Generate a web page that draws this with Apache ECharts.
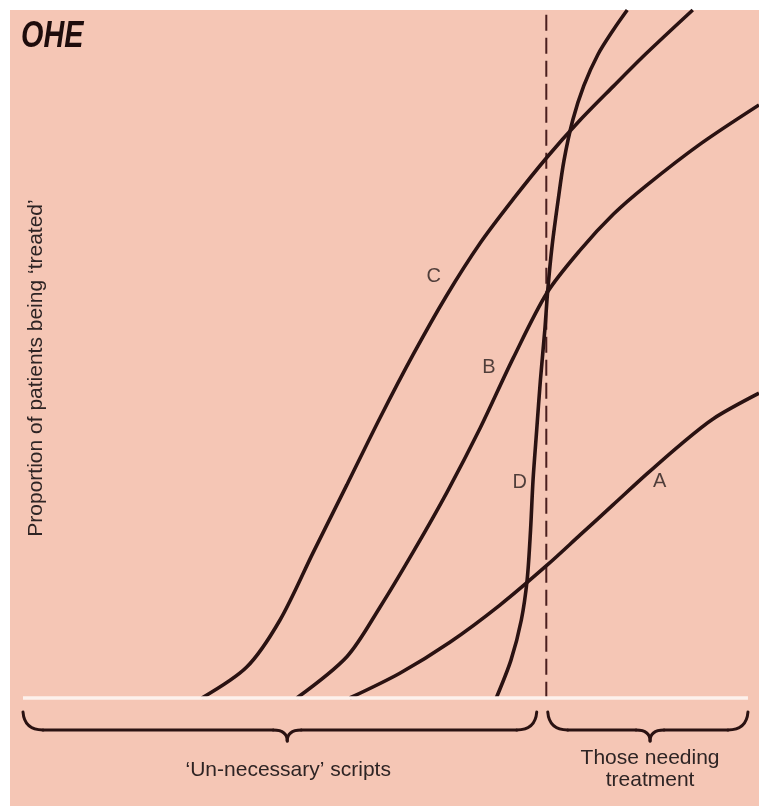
<!DOCTYPE html>
<html>
<head>
<meta charset="utf-8">
<script src="https://cdn.jsdelivr.net/npm/echarts@6/dist/echarts.min.js"></script>
<style>
  html, body { margin: 0; padding: 0; background: #ffffff; }
  #chart { width: 759px; height: 806px; }
</style>
</head>
<body>
<div id="chart"></div>
<script>
// x: prescribing spectrum (0 = left end of baseline), y: proportion treated (0-100)
const curveA = [[44.4,0],[51.2,3.6],[58.0,8.1],[64.8,13.5],[71.2,19.3],[75.7,23.7],[80.2,28.1],[84.8,32.6],[89.3,36.8],[93.8,40.6],[100,44.3]];
const curveB = [[37.2,0],[44.0,6.0],[48.5,13.2],[53.0,21.2],[57.6,29.9],[62.1,39.2],[66.6,49.4],[71.2,58.9],[75.7,65.1],[80.2,70.3],[84.6,74.4],[92.0,80.5],[100,86.2]];
const curveC = [[24.3,0],[30.4,4.5],[34.9,11.3],[39.4,21.1],[44.0,30.97],[48.5,40.7],[53.0,49.9],[57.5,58.4],[62.1,66.1],[66.6,72.5],[71.2,78.6],[75.7,84.0],[80.2,88.9],[84.6,93.6],[91.0,100]];
const curveD = [[64.3,0],[66.3,5.5],[67.7,11.3],[68.5,17.2],[68.96,24.4],[69.3,31.7],[69.8,39.0],[70.3,46.2],[70.9,53.5],[71.3,59.3],[71.9,65.8],[72.7,72.3],[73.5,78.1],[74.7,84.0],[76.2,89.0],[78.1,93.5],[80.2,97.1],[82.1,100]];
const curveLabels = ['C', 'B', 'D', 'A'];
const labelPositions = [[55.8,61.3],[63.3,48.1],[67.5,31.3],[86.5,31.4]];
const thresholdX = 71.1;
const thresholdTop = 99.3;
const baselineEnd = 98.5;
const yAxisTitle = 'Proportion of patients being \u2018treated\u2019';
const groupLeft = '\u2018Un-necessary\u2019 scripts';
const groupRight = 'Those needing\ntreatment';
const leftBrace = [0, 35.9, 69.8];
const rightBrace = [71.3, 85.2, 98.5];

const INK = '#2a1212';
const TEXT = '#2e2424';
const FONT = '"Liberation Sans", Arial, sans-serif';

const chart = echarts.init(document.getElementById('chart'), null, { renderer: 'canvas' });

function curve(name, data) {
  return {
    name, type: 'line', data, smooth: 0.3, showSymbol: false, symbol: 'none',
    lineStyle: { color: INK, width: 3.6 }, z: 3, clip: true, silent: true
  };
}

chart.setOption({
  backgroundColor: '#ffffff',
  animation: false,
  grid: { left: 23, right: 0, top: 10, bottom: 108 },
  xAxis: { type: 'value', min: 0, max: 100, show: false },
  yAxis: { type: 'value', min: 0, max: 100, show: false },
  series: [
    curve('A', curveA), curve('B', curveB), curve('C', curveC), curve('D', curveD),
    {
      name: 'threshold', type: 'line', silent: true, symbol: 'none',
      data: [[thresholdX, thresholdTop], [thresholdX, 0]],
      lineStyle: { color: '#4a1e1e', width: 2, type: [16, 7] }, z: 2
    },
    {
      name: 'baseline', type: 'line', silent: true, symbol: 'none',
      data: [[0, 0], [baselineEnd, 0]],
      lineStyle: { color: '#fdf1ec', width: 3.5 }, z: 4, clip: false
    },
    {
      name: 'labels', type: 'scatter', silent: true, symbolSize: 0,
      data: labelPositions.map((p, i) => ({ value: p, name: curveLabels[i] })),
      label: { show: true, position: 'inside', formatter: '{b}', color: '#261c1c', fontSize: 20, fontFamily: FONT },
      z: 5
    }
  ]
});

function px(v, y) { return chart.convertToPixel({ gridIndex: 0 }, [v, y || 0]); }

function brace(b) {
  const x0 = px(b[0])[0], xm = px(b[1])[0], x1 = px(b[2])[0];
  const y0 = px(0)[1];
  const yt = y0 + 14, yf = y0 + 32, yp = y0 + 43;
  const st = { stroke: INK, lineWidth: 3, fill: null, lineCap: 'round' };
  const mk = (type, shape) => ({ type, z: 10, silent: true, shape, style: Object.assign({}, st) });
  return [
    mk('bezierCurve', { x1: x0, y1: yt, cpx1: x0 + 1, cpy1: yf - 5, cpx2: x0 + 8, cpy2: yf, x2: x0 + 20, y2: yf }),
    mk('line', { x1: x0 + 20, y1: yf, x2: xm - 14, y2: yf }),
    mk('bezierCurve', { x1: xm - 14, y1: yf, cpx1: xm - 4, cpy1: yf, cpx2: xm, cpy2: yf + 4, x2: xm, y2: yp }),
    mk('bezierCurve', { x1: xm, y1: yp, cpx1: xm, cpy1: yf + 4, cpx2: xm + 4, cpy2: yf, x2: xm + 14, y2: yf }),
    mk('line', { x1: xm + 14, y1: yf, x2: x1 - 20, y2: yf }),
    mk('bezierCurve', { x1: x1 - 20, y1: yf, cpx1: x1 - 8, cpy1: yf, cpx2: x1 - 1, cpy2: yf - 5, x2: x1, y2: yt })
  ];
}

const base = px(0)[1];
chart.setOption({
  graphic: [
    { type: 'rect', z: -10, silent: true, shape: { x: 10, y: 10, width: 749, height: 796 }, style: { fill: '#f5c6b5' } }
  ].concat(brace(leftBrace), brace(rightBrace), [
    { type: 'text', z: 10, silent: true, x: px(leftBrace[1])[0] + 1, y: base + 72,
      style: { text: groupLeft, fill: TEXT, font: '21px ' + FONT, textAlign: 'center', textVerticalAlign: 'middle' } },
    { type: 'text', z: 10, silent: true, x: px(rightBrace[1])[0], y: base + 71,
      style: { text: groupRight, fill: TEXT, font: '21px ' + FONT, textAlign: 'center', textVerticalAlign: 'middle', lineHeight: 22 } },
    { type: 'text', z: 10, silent: true, x: 36, y: 368, rotation: Math.PI / 2,
      style: { text: yAxisTitle, fill: TEXT, font: '21px ' + FONT, textAlign: 'center', textVerticalAlign: 'middle' } },
    { type: 'text', z: 10, silent: true, x: 21, y: 37, scaleX: 0.8,
      style: { text: 'OHE', fill: '#1e0c0c', font: 'italic bold 36px ' + FONT, textAlign: 'left', textVerticalAlign: 'middle' } }
  ])
});
</script>
</body>
</html>
